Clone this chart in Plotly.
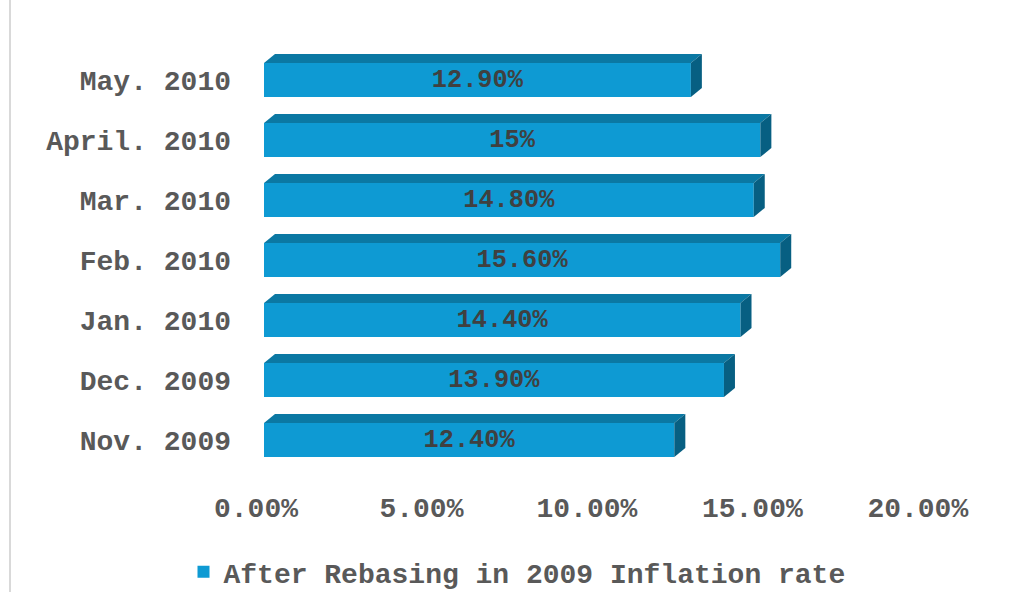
import plotly.graph_objects as go

categories = ["Nov. 2009", "Dec. 2009", "Jan. 2010", "Feb. 2010", "Mar. 2010", "April. 2010", "May. 2010"]
values = [12.4, 13.9, 14.4, 15.6, 14.8, 15.0, 12.9]
value_labels = ["12.40%", "13.90%", "14.40%", "15.60%", "14.80%", "15%", "12.90%"]
tick_vals = [0, 5, 10, 15, 20]
tick_text = ["0.00%", "5.00%", "10.00%", "15.00%", "20.00%"]
series_name = "After Rebasing in 2009 Inflation rate"

FRONT = "#0E9AD3"
TOP = "#0B78A3"
SIDE = "#075F82"
FONT = "Courier New, Liberation Mono, monospace"

W = 1029
H = 592
ML, MR, MT, MB = 264, 37, 50, 122
XMAX = 22.0
plot_w = W - ML - MR
plot_h = H - MT - MB
px_per_x = plot_w / XMAX
px_per_y = plot_h / 7.0

bar_w = 0.567
dx = 11 / px_per_x
dy = 9 / px_per_y

ys = list(range(len(categories)))

fig = go.Figure()
fig.add_trace(go.Bar(
    x=values, y=ys, orientation="h", width=bar_w,
    marker=dict(color=FRONT, line=dict(width=0)),
    text=value_labels, textposition="inside", insidetextanchor="middle",
    textfont=dict(family=FONT, size=28, color="#404040", weight="bold"),
    name=series_name, showlegend=True, hoverinfo="skip",
))

for y, v in zip(ys, values):
    top = y + bar_w / 2
    bot = y - bar_w / 2
    fig.add_trace(go.Scatter(
        x=[0, v, v + dx, dx, 0], y=[top, top, top + dy, top + dy, top],
        mode="lines", fill="toself", fillcolor=TOP, line=dict(width=0, color=TOP),
        showlegend=False, hoverinfo="skip",
    ))
    fig.add_trace(go.Scatter(
        x=[v, v, v + dx, v + dx, v], y=[bot, top, top + dy, bot + dy, bot],
        mode="lines", fill="toself", fillcolor=SIDE, line=dict(width=0, color=SIDE),
        showlegend=False, hoverinfo="skip",
    ))

fig.add_shape(type="line", xref="paper", yref="paper",
              x0=(10 - ML) / plot_w, x1=(10 - ML) / plot_w,
              y0=-MB / plot_h, y1=1 + MT / plot_h,
              line=dict(color="#D9D9D9", width=2))

fig.update_layout(
    width=W, height=H,
    margin=dict(l=ML, r=MR, t=MT, b=MB, autoexpand=False),
    paper_bgcolor="white", plot_bgcolor="white",
    font=dict(family=FONT, size=28, color="#595959", weight="bold"),
    xaxis=dict(range=[0, XMAX], tickvals=tick_vals, ticktext=tick_text,
               showgrid=False, zeroline=False, showline=False,
               ticks="", ticklabelshift=-8, ticklabelstandoff=18,
               tickfont=dict(family=FONT, size=28, color="#595959", weight="bold"),
               fixedrange=True, automargin=False),
    yaxis=dict(range=[-0.5, 6.5], tickvals=ys, ticktext=categories,
               showgrid=False, zeroline=False, showline=False,
               ticks="", ticklabelstandoff=32,
               tickfont=dict(family=FONT, size=28, color="#595959", weight="bold"),
               fixedrange=True, automargin=False),
    legend=dict(orientation="h", xref="container", x=517 / W, xanchor="center",
                yref="container", y=1 - 572 / H, yanchor="middle",
                font=dict(family=FONT, size=28, color="#595959", weight="bold"),
                itemwidth=30, bgcolor="rgba(0,0,0,0)"),
    bargap=0.4,
)

fig.write_html("out.html")
